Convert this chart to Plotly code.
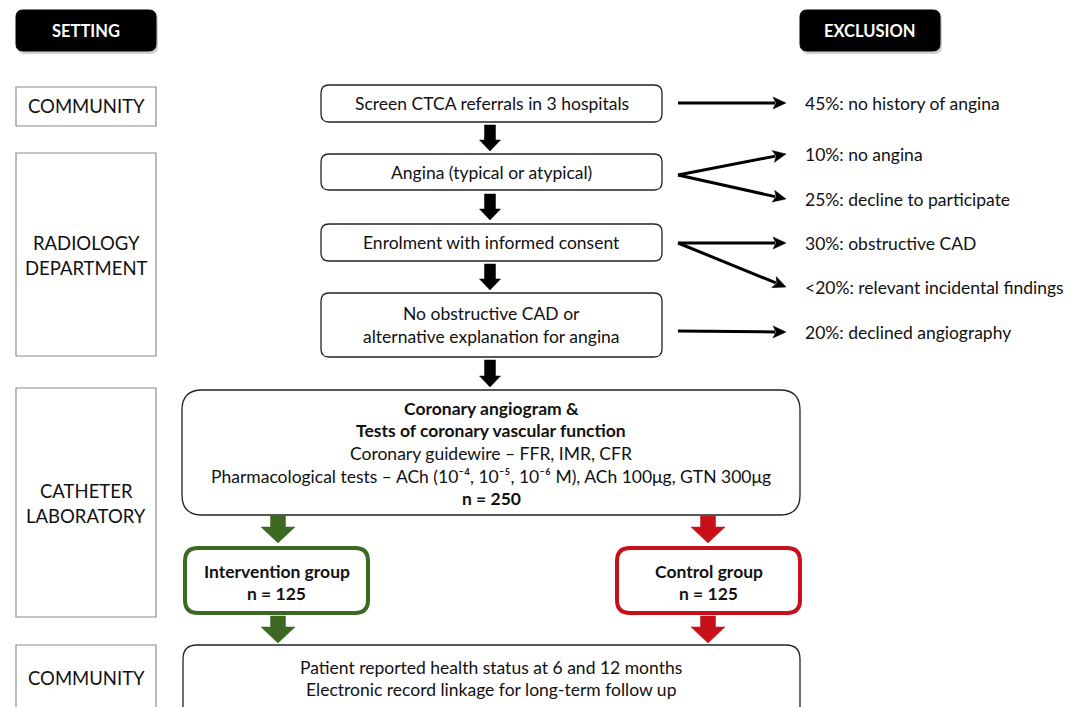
import plotly.graph_objects as go

# ---------------- data ----------------
headers = ["SETTING", "EXCLUSION"]
settings = [["COMMUNITY"], ["RADIOLOGY", "DEPARTMENT"], ["CATHETER", "LABORATORY"], ["COMMUNITY"]]
screening_steps = [
    ["Screen CTCA referrals in 3 hospitals"],
    ["Angina (typical or atypical)"],
    ["Enrolment with informed consent"],
    ["No obstructive CAD or", "alternative explanation for angina"],
]
exclusion_pct = ["45%", "10%", "25%", "30%", "<20%", "20%"]
exclusion_reason = [
    "no history of angina",
    "no angina",
    "decline to participate",
    "obstructive CAD",
    "relevant incidental findings",
    "declined angiography",
]
# which screening step each exclusion branches from
exclusion_from = [0, 1, 1, 2, 2, 3]
cath_lines = [
    "Coronary angiogram &",
    "Tests of coronary vascular function",
    "Coronary guidewire – FFR, IMR, CFR",
    "Pharmacological tests – ACh (10⁻⁴, 10⁻⁵, 10⁻⁶ M), ACh 100μg, GTN 300μg",
]
n_total = 250
groups = ["Intervention group", "Control group"]
n_groups = [125, 125]
followup_lines = [
    "Patient reported health status at 6 and 12 months",
    "Electronic record linkage for long-term follow up",
]

# ---------------- style / layout ----------------
FONT = "Lato"
DARK = "#222222"
TXT = "#111111"
GREEN = "#3d6821"
RED = "#c8101a"
W, H = 1073, 707
OFF = 8  # page body margin

fig = go.Figure()
fig.add_trace(go.Scatter(x=[OFF, W], y=[OFF, H], mode="markers",
                         marker=dict(opacity=0), hoverinfo="skip"))

shapes = []
annotations = []


def rrect(x0, y0, x1, y1, r):
    return (f"M{x0+r},{y0} L{x1-r},{y0} Q{x1},{y0} {x1},{y0+r} "
            f"L{x1},{y1-r} Q{x1},{y1} {x1-r},{y1} L{x0+r},{y1} "
            f"Q{x0},{y1} {x0},{y1-r} L{x0},{y0+r} Q{x0},{y0} {x0+r},{y0} Z")


def add_rrect(x0, y0, x1, y1, r, color=DARK, width=1.3, fill="white"):
    shapes.append(dict(type="path", path=rrect(x0, y0, x1, y1, r),
                       line=dict(color=color, width=width), fillcolor=fill,
                       xref="x", yref="y", layer="below"))


def add_rect(x0, y0, x1, y1, color="#8a8a8a", width=1.2):
    shapes.append(dict(type="rect", x0=x0, y0=y0, x1=x1, y1=y1,
                       line=dict(color=color, width=width), fillcolor="white",
                       xref="x", yref="y", layer="below"))


def block_arrow(cx, y0, y1, sw, hw, hh, color):
    pts = [(cx - sw, y0), (cx + sw, y0), (cx + sw, y1 - hh), (cx + hw, y1 - hh),
           (cx, y1), (cx - hw, y1 - hh), (cx - sw, y1 - hh)]
    p = "M" + " L".join(f"{x},{y}" for x, y in pts) + " Z"
    shapes.append(dict(type="path", path=p, fillcolor=color,
                       line=dict(color=color, width=0.5), xref="x", yref="y"))


def thin_arrow(x0, y0, x1, y1, hl=13, hw=6, lw=3):
    dx, dy = x1 - x0, y1 - y0
    L = (dx * dx + dy * dy) ** 0.5
    ux, uy = dx / L, dy / L
    bx, by = x1 - ux * hl, y1 - uy * hl
    shapes.append(dict(type="line", x0=x0, y0=y0, x1=bx + ux * 2, y1=by + uy * 2,
                       line=dict(color="black", width=lw), xref="x", yref="y"))
    px, py = -uy, ux
    p = (f"M{x1},{y1} L{bx + px*hw},{by + py*hw} L{bx + ux*3},{by + uy*3} "
         f"L{bx - px*hw},{by - py*hw} Z")
    shapes.append(dict(type="path", path=p, fillcolor="black",
                       line=dict(color="black", width=0.5), xref="x", yref="y"))


def text(x, y, s, size=17.5, bold=False, color=TXT, xanchor="center"):
    if bold:
        s = f"<b>{s}</b>"
    annotations.append(dict(x=x, y=y, text=s, showarrow=False, xref="x", yref="y",
                            xanchor=xanchor, yanchor="middle",
                            font=dict(family=FONT, size=size, color=color)))


def lines(x, yc, items, gap, **kw):
    n = len(items)
    for i, s in enumerate(items):
        text(x, yc + (i - (n - 1) / 2) * gap, s, **kw)


# header buttons
for (x0, x1), lab in zip([(16, 156), (800, 940)], headers):
    shapes.append(dict(type="path", path=rrect(x0 + 2, 12, x1 + 2, 54, 7),
                       fillcolor="rgba(0,0,0,0.18)", line=dict(width=0),
                       xref="x", yref="y", layer="below"))
    add_rrect(x0, 10, x1, 51, 7, color="black", width=1, fill="black")
    text((x0 + x1) / 2, 31, lab, size=16.5, bold=True, color="white")

# setting boxes (left column)
setting_boxes = [(87, 126), (153, 356), (388, 617), (645, 740)]
setting_text_y = [106, 255.5, 503.5, 678]
for (y0, y1), ty, lab in zip(setting_boxes, setting_text_y, settings):
    add_rect(16, y0, 156, y1)
    lines(86, ty, lab, 25, size=18.5)

# screening step boxes
step_boxes = [(85, 122), (154, 190), (224, 261), (293, 357)]
for (y0, y1), lab in zip(step_boxes, screening_steps):
    add_rrect(321, y0, 662, y1, 8)
    lines(491.5, (y0 + y1) / 2, lab, 23, size=17.5)

# black arrows between steps
arrow_spans = [(125, 151), (194, 220), (264, 290), (360, 387)]
for y0, y1 in arrow_spans:
    block_arrow(490, y0, y1, 5.5, 10.5, 11, "black")

# exclusion arrows and labels
exclusion_y = [103, 154, 199, 243, 287, 332]
origin_y = {0: 103, 1: 175, 2: 243, 3: 331}
for pct, reason, src, ty in zip(exclusion_pct, exclusion_reason, exclusion_from, exclusion_y):
    thin_arrow(678, origin_y[src], 786, ty)
    text(803, ty, f"{pct}: {reason}", size=17.5, xanchor="left")

# catheter lab box
add_rrect(182, 390, 800, 515, 20)
cath_y = [408, 430, 453, 476]
for i, (ty, s) in enumerate(zip(cath_y, cath_lines)):
    text(491, ty, s, size=17.5, bold=(i < 2))
text(491, 498, f"n = {n_total}", size=17.5, bold=True)

# group arrows + boxes
group_x = [(183, 370), (615, 802)]
group_cx = [278, 708]
group_col = [GREEN, RED]
for (x0, x1), cx, col, g, n in zip(group_x, group_cx, group_col, groups, n_groups):
    block_arrow(cx, 516, 543, 7.5, 17, 16, col)
    add_rrect(x0 + 2, 548, x1 - 2, 613, 13, color=col, width=4)
    text((x0 + x1) / 2, 571, g, size=17.5, bold=True)
    text((x0 + x1) / 2, 593, f"n = {n}", size=17.5, bold=True)
    block_arrow(cx, 616, 643, 7.5, 17, 16, col)

# follow-up box
add_rrect(183, 645, 800, 740, 14)
for ty, s in zip([667, 689], followup_lines):
    text(491, ty, s, size=17.5)

fig.update_layout(
    width=W - OFF, height=H - OFF, margin=dict(l=0, r=0, t=0, b=0),
    paper_bgcolor="white", plot_bgcolor="white", showlegend=False,
    xaxis=dict(range=[OFF, W], visible=False, fixedrange=True),
    yaxis=dict(range=[H, OFF], visible=False, fixedrange=True),
    shapes=shapes, annotations=annotations,
)
fig.write_html("out.html")
